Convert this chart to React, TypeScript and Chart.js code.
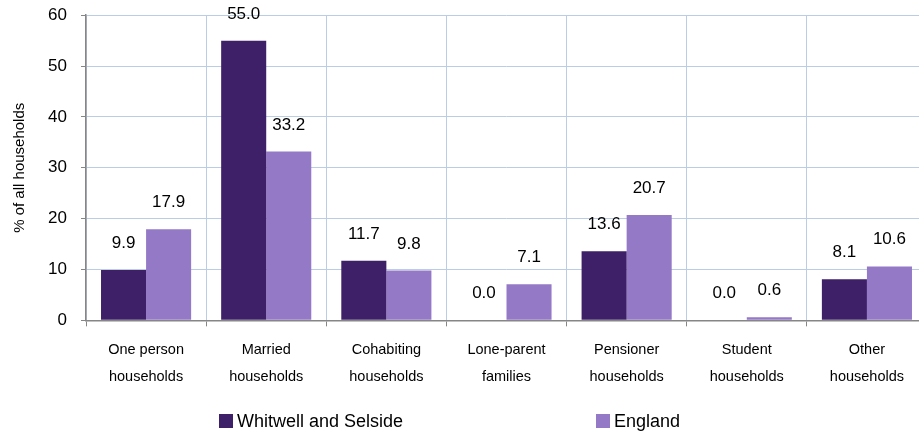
import React, { useEffect, useRef } from "react";
import { Chart, registerables } from "chart.js";

Chart.register(...registerables);

const categories: string[][] = [
  ["One person", "households"],
  ["Married", "households"],
  ["Cohabiting", "households"],
  ["Lone-parent", "families"],
  ["Pensioner", "households"],
  ["Student", "households"],
  ["Other", "households"],
];
const seriesNames = ["Whitwell and Selside", "England"];
const whitwell = [9.9, 55.0, 11.7, 0.0, 13.6, 0.0, 8.1];
const england = [17.9, 33.2, 9.8, 7.1, 20.7, 0.6, 10.6];
const colors = ["#3D2068", "#9479C6"];
const yTicks = { min: 0, max: 60, step: 10 };

const FONT = "'Liberation Sans', Arial, sans-serif";
const SHIFT = 9;

const dataLabels = {
  id: "dataLabels",
  afterDatasetsDraw(chart: any) {
    const ctx = chart.ctx;
    ctx.save();
    ctx.font = `17px ${FONT}`;
    ctx.fillStyle = "#000";
    ctx.textAlign = "center";
    ctx.textBaseline = "alphabetic";
    chart.data.datasets.forEach((ds: any, i: number) => {
      const meta = chart.getDatasetMeta(i);
      meta.data.forEach((bar: any, j: number) => {
        const v = ds.data[j] as number;
        ctx.fillText(v.toFixed(1), bar.x, bar.y - 22);
      });
    });
    ctx.restore();
  },
};

const customLegend = {
  id: "customLegend",
  afterDraw(chart: any) {
    const ctx = chart.ctx;
    ctx.save();
    ctx.font = `18px ${FONT}`;
    ctx.textBaseline = "middle";
    ctx.textAlign = "left";
    const xs = [219, 596];
    const y = 421 + SHIFT;
    chart.data.datasets.forEach((ds: any, i: number) => {
      ctx.fillStyle = ds.backgroundColor;
      ctx.fillRect(xs[i], y - 7, 14, 14);
      ctx.fillStyle = "#000";
      ctx.fillText(ds.label, xs[i] + 18, y + 1);
    });
    ctx.restore();
  },
};

export default function App() {
  const ref = useRef<HTMLCanvasElement>(null);
  useEffect(() => {
    if (!ref.current) return;
    const chart = new Chart(ref.current, {
      type: "bar",
      data: {
        labels: categories,
        datasets: [
          { label: seriesNames[0], data: whitwell, backgroundColor: colors[0] },
          { label: seriesNames[1], data: england, backgroundColor: colors[1] },
        ],
      },
      options: {
        responsive: false,
        animation: false,
        layout: { padding: { top: 4, bottom: 37, left: 0, right: 0 } },
        plugins: {
          legend: { display: false },
          tooltip: { enabled: false },
        },
        datasets: {
          bar: { categoryPercentage: 0.75, barPercentage: 1.0 },
        },
        scales: {
          x: {
            offset: true,
            grid: {
              offset: true,
              color: "#BACDE4",
              tickColor: "#868686",
              tickLength: 6,
              lineWidth: 1,
            },
            border: { color: "#868686", width: 1.5 },
            ticks: {
              color: "#000",
              font: { family: FONT, size: 14.5, lineHeight: 1.85 },
              padding: 10,
              maxRotation: 0,
              autoSkip: false,
            },
          },
          y: {
            min: yTicks.min,
            max: yTicks.max,
            afterFit(scale: any) {
              scale.width = 86;
            },
            grid: {
              color: "#BACDE4",
              tickColor: "#868686",
              tickLength: 5,
              lineWidth: 1,
            },
            border: { color: "#868686", width: 1.5 },
            ticks: {
              stepSize: yTicks.step,
              color: "#000",
              font: { family: FONT, size: 17 },
              padding: 14,
            },
            title: {
              display: true,
              text: "% of all households",
              color: "#000",
              font: { family: FONT, size: 15 },
              padding: { top: 11, bottom: 0 },
            },
          },
        },
      },
      plugins: [dataLabels, customLegend],
    });
    return () => chart.destroy();
  }, []);
  return (
    <div
      style={{
        position: "fixed",
        left: 0,
        top: 0,
        width: 919,
        height: 437,
        overflow: "hidden",
        background: "#fff",
      }}
    >
      <canvas
        ref={ref}
        width={927}
        height={437 + SHIFT}
        style={{ display: "block", marginTop: -SHIFT }}
      />
    </div>
  );
}
